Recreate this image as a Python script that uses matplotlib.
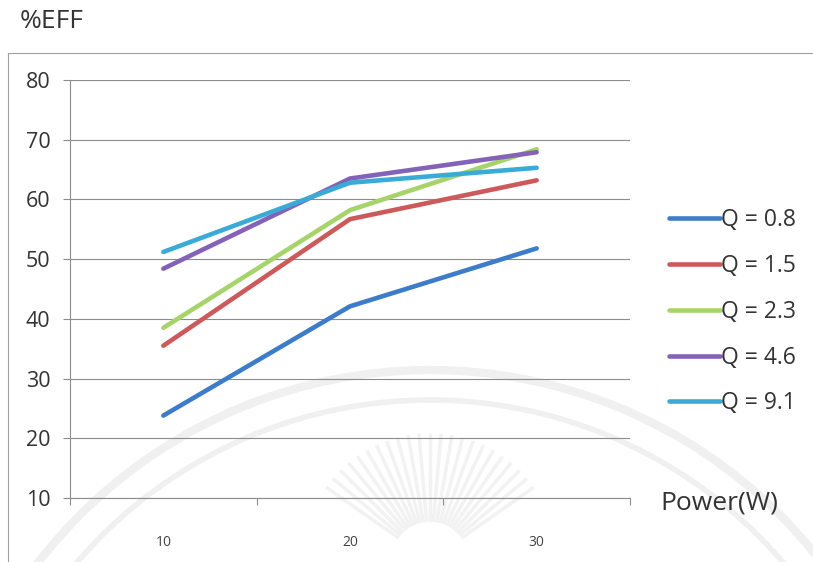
import numpy as np
import matplotlib
matplotlib.use("Agg")
import matplotlib.pyplot as plt
from matplotlib.patches import Arc

plt.rcParams['font.family'] = ['Open Sans', 'DejaVu Sans']

# efficiency (%) at each power setting, one series per flow rate Q
power = ["10", "20", "30"]
q_labels = ["Q = 0.8", "Q = 1.5", "Q = 2.3", "Q = 4.6", "Q = 9.1"]
eff_q08 = [23.8, 42.1, 51.8]
eff_q15 = [35.5, 56.7, 63.2]
eff_q23 = [38.5, 58.2, 68.4]
eff_q46 = [48.4, 63.5, 67.9]
eff_q91 = [51.2, 62.8, 65.3]
colors = ["#3d7cc9", "#cc5a5a", "#a6d46a", "#8462b8", "#3aabd6"]

W, H = 813, 562
fig = plt.figure(figsize=(W / 100, H / 100), dpi=100)

# background layer in pixel coordinates: frame and faint seal
bg = fig.add_axes([0, 0, 1, 1], zorder=0)
bg.set_xlim(0, W)
bg.set_ylim(H, 0)
bg.axis("off")
bg.plot([8, W], [53, 53], color="#a0a0a0", lw=0.8)
bg.plot([8, 8], [53, H], color="#a0a0a0", lw=0.8)
for r, lw in [(495, 6), (465, 4)]:
    bg.add_patch(Arc((430, 865), 2 * r, 2 * r, theta1=0, theta2=360,
                     color="#f0f0f0", lw=lw))
for ang in np.linspace(35, 145, 23):
    a = np.radians(ang)
    bg.plot([430 + 40 * np.cos(a), 430 + 125 * np.cos(a)],
            [560 - 40 * np.sin(a), 560 - 125 * np.sin(a)],
            color="#f2f2f2", lw=2.5)

ax = fig.add_axes([70 / W, 1 - 498 / H, 560 / W, 418 / H], zorder=1)
ax.patch.set_alpha(0)

x = np.arange(1, len(power) + 1)
series = [eff_q08, eff_q15, eff_q23, eff_q46, eff_q91]
for vals, lab, c in zip(series, q_labels, colors):
    ax.plot(x, vals, color=c, lw=3.3, label=lab, solid_capstyle="round",
            solid_joinstyle="miter")

ax.set_xlim(0.5, 3.5)
ax.set_ylim(10, 80)
ax.set_yticks(range(10, 81, 10))
ax.yaxis.grid(True, color="#8c8c8c", lw=0.8)
ax.set_axisbelow(True)
ax.tick_params(axis="y", length=5, width=0.8, color="#8c8c8c",
               labelsize=15.5, pad=9, labelcolor="#333333")

# category boundaries as ticks, labels centred in between
ax.set_xticks([0.5, 1.5, 2.5, 3.5])
ax.set_xticklabels([])
ax.set_xticks(x, minor=True)
ax.set_xticklabels(power, minor=True)
ax.tick_params(axis="x", which="major", length=5, width=0.8, color="#8c8c8c")
ax.tick_params(axis="x", which="minor", length=0, pad=27, labelsize=10,
               labelcolor="#444444")

for s in ["top", "right"]:
    ax.spines[s].set_visible(False)
for s in ["left", "bottom"]:
    ax.spines[s].set_color("#8c8c8c")
    ax.spines[s].set_linewidth(0.8)

leg = ax.legend(loc="upper left", bbox_to_anchor=(590 / 560, 0.715),
                frameon=False, fontsize=16.5, handlelength=2.2,
                handletextpad=0.05, labelspacing=0.95, borderaxespad=0)
for t in leg.get_texts():
    t.set_color("#333333")

fig.text(20 / W, 1 - 22 / H, "%EFF", fontsize=19, color="#333333",
         ha="left", va="center")
fig.text(660 / W, 1 - 503 / H, "Power(W)", fontsize=19, color="#333333",
         ha="left", va="center")

fig.savefig("out.png", dpi=100)
